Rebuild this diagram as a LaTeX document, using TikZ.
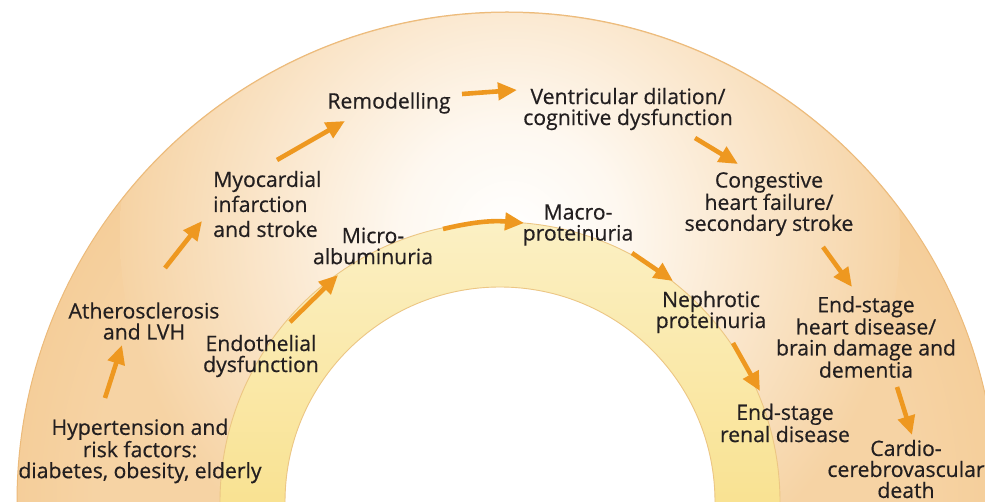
\documentclass[tikz,border=0pt]{standalone}
\usepackage{fontspec}
\setmainfont{Open Sans}
\newfontfamily\lblfont{Open Sans}[BoldFont={Open Sans}, BoldFeatures={FakeBold=0.5}]
\usetikzlibrary{arrows.meta}
\definecolor{arrowor}{RGB}{238,152,32}
\definecolor{peach}{RGB}{246,211,164}
\definecolor{peachedge}{RGB}{245,206,154}
\definecolor{peachlight}{RGB}{254,248,240}
\definecolor{peachline}{RGB}{236,186,122}
\definecolor{ylight}{RGB}{251,240,196}
\definecolor{ymid}{RGB}{249,226,146}
\definecolor{yline}{RGB}{236,198,132}
\definecolor{txt}{RGB}{35,31,32}
\pgfdeclareradialshading{peachshade}{\pgfpoint{0bp}{0bp}}{color(0bp)=(peach); color(21bp)=(peach); color(25bp)=(peachedge); color(50bp)=(peachedge)}
\pgfdeclareradialshading{glowshade}{\pgfpoint{0bp}{0bp}}{color(0bp)=(white); color(7bp)=(peachlight); color(25bp)=(peach); color(50bp)=(peach)}
\tikzset{
  lbl/.style={font=\lblfont\bfseries\fontsize{21.2}{21}\selectfont, text=txt, align=center, inner sep=0pt},
  arr/.style={draw=arrowor, line width=4.6pt, -{Triangle[length=19pt,width=17pt]}},
}
\begin{document}
\begin{tikzpicture}[x=1pt,y=-1pt]
\useasboundingbox (0,0) rectangle (985,502);
\clip (0,0) rectangle (985,502);
\fill[white] (0,0) rectangle (985,502);
% outer band
\shade[shading=peachshade] (507,502) circle[radius=490pt];
\begin{scope}
  \clip (507,502) circle[radius=489pt];
  \shade[shading=glowshade] (510,235) circle[radius=390pt];
\end{scope}
\draw[peachline, line width=1pt] (507,502) circle[radius=490pt];
% inner hole and yellow band
\fill[white] (500,502) circle[radius=215pt];
\shade[top color=ylight, bottom color=ymid, middle color=ymid, even odd rule]
  (500,502) circle[radius=280pt] (500,502) circle[radius=215pt];
\draw[yline, line width=0.9pt] (500,502) circle[radius=280pt];
\draw[yline, line width=0.9pt] (500,502) circle[radius=215pt];

% labels
\node[lbl] (hyp) at (140,451) {Hypertension and\\risk factors:\\diabetes, obesity, elderly};
\node[lbl] (ath) at (144,321) {Atherosclerosis\\and LVH};
\node[lbl, anchor=west, align=left, font=\lblfont\bfseries\fontsize{21.2}{25}\selectfont] (myo) at (213,204) {Myocardial\\infarction\\and stroke};
\node[lbl] (rem) at (389,103) {Remodelling};
\node[lbl] (ven) at (628,109) {Ventricular dilation/\\cognitive dysfunction};
\node[lbl] (con) at (769,204) {Congestive\\heart failure/\\secondary stroke};
\node[lbl] (esh) at (866,337) {End-stage\\heart disease/\\brain damage and\\dementia};
\node[lbl] (ccd) at (906,469) {Cardio-\\cerebrovascular\\death};
\node[lbl] (end) at (261,356) {Endothelial\\dysfunction};
\node[lbl] (mic) at (373,246) {Micro-\\albuminuria};
\node[lbl] (mac) at (578,225) {Macro-\\proteinuria};
\node[lbl] (nep) at (711,312) {Nephrotic\\proteinuria};
\node[lbl] (esr) at (785,423) {End-stage\\renal disease};

% arrow end points
\coordinate (t1) at (105,398); \coordinate (h1) at (122,345);
\coordinate (t2) at (165,268); \coordinate (h2) at (202,221);
\coordinate (t3) at (277,160); \coordinate (h3) at (345,121);
\coordinate (t4) at (462,94);  \coordinate (h4) at (517,90);
\coordinate (t5) at (695,138); \coordinate (h5) at (738,164);
\coordinate (t6) at (823,247); \coordinate (h6) at (852,287);
\coordinate (t7) at (897,387); \coordinate (h7) at (912,435);
\coordinate (t8) at (290,322); \coordinate (h8) at (338,275);
\coordinate (t9) at (443,229); \coordinate (h9) at (524,223);
\coordinate (t10) at (632,253); \coordinate (h10) at (673,281);
\coordinate (t11) at (733,343); \coordinate (h11) at (760,391);

\draw[arr] (t1) -- (h1);
\draw[arr] (t2) -- (h2);
\draw[arr] (t3) -- (h3);
\draw[arr] (t4) -- (h4);
\draw[arr] (t5) -- (h5);
\draw[arr] (t6) -- (h6);
\draw[arr] (t7) -- (h7);
\draw[arr] (t8) -- (h8);
\draw[arr] (t9) to[bend left=9] (h9);
\draw[arr] (t10) -- (h10);
\draw[arr] (t11) -- (h11);
\end{tikzpicture}
\end{document}
